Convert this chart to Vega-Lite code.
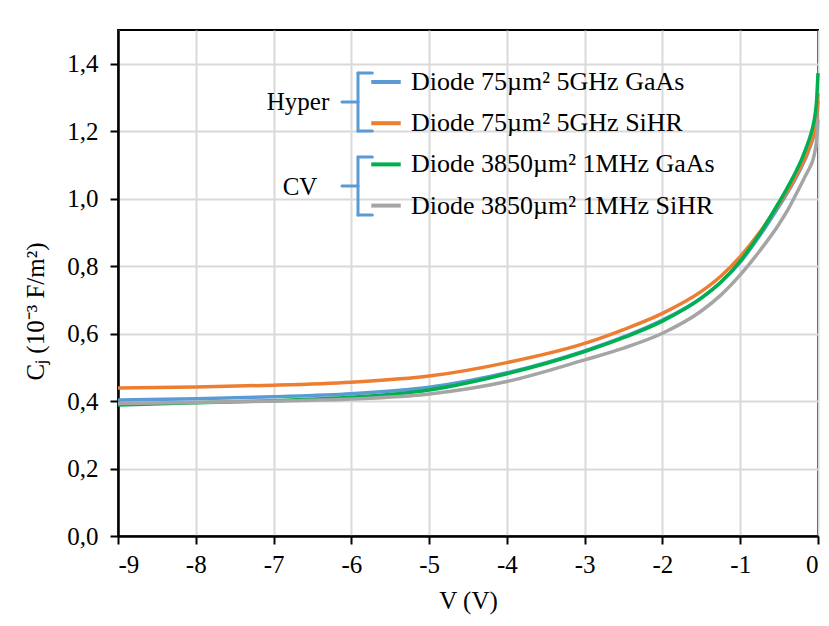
{
  "$schema": "https://vega.github.io/schema/vega-lite/v6.json",
  "width": 700,
  "height": 506,
  "autosize": {"type": "none"},
  "padding": {"left": 118, "top": 30, "right": 11, "bottom": 90},
  "background": "white",
  "data": {"values": [{}]},
  "config": {
    "locale": {"number": {"decimal": ",", "thousands": ".", "grouping": [3], "currency": ["", " €"], "minus": "-"}},
    "font": "Liberation Serif",
    "view": {"stroke": "black", "strokeWidth": 2},
    "axis": {
      "labelFont": "Liberation Serif", "labelFontSize": 25, "labelColor": "black",
      "titleFont": "Liberation Serif", "titleFontSize": 25, "titleColor": "black", "titleFontWeight": "normal",
      "domainColor": "black", "domainWidth": 2.5, "tickColor": "black", "tickWidth": 2, "tickSize": 8,
      "gridColor": "#D9D9D9", "gridWidth": 2
    },
    "legend": {"labelFont": "Liberation Serif", "labelFontSize": 26, "labelColor": "black"}
  },
  "datasets": {
    "curves": [
      {"V": -9, "C": 0.403, "series": "Diode 75µm² 5GHz GaAs"},
      {"V": -8, "C": 0.407, "series": "Diode 75µm² 5GHz GaAs"},
      {"V": -7, "C": 0.413, "series": "Diode 75µm² 5GHz GaAs"},
      {"V": -6, "C": 0.422, "series": "Diode 75µm² 5GHz GaAs"},
      {"V": -5, "C": 0.441, "series": "Diode 75µm² 5GHz GaAs"},
      {"V": -4, "C": 0.484, "series": "Diode 75µm² 5GHz GaAs"},
      {"V": -3, "C": 0.549, "series": "Diode 75µm² 5GHz GaAs"},
      {"V": -2.5, "C": 0.590, "series": "Diode 75µm² 5GHz GaAs"},
      {"V": -2, "C": 0.640, "series": "Diode 75µm² 5GHz GaAs"},
      {"V": -1.5, "C": 0.706, "series": "Diode 75µm² 5GHz GaAs"},
      {"V": -1.25, "C": 0.752, "series": "Diode 75µm² 5GHz GaAs"},
      {"V": -1, "C": 0.812, "series": "Diode 75µm² 5GHz GaAs"},
      {"V": -0.75, "C": 0.890, "series": "Diode 75µm² 5GHz GaAs"},
      {"V": -0.5, "C": 0.978, "series": "Diode 75µm² 5GHz GaAs"},
      {"V": -0.4, "C": 1.015, "series": "Diode 75µm² 5GHz GaAs"},
      {"V": -0.3, "C": 1.055, "series": "Diode 75µm² 5GHz GaAs"},
      {"V": -0.2, "C": 1.100, "series": "Diode 75µm² 5GHz GaAs"},
      {"V": -0.15, "C": 1.125, "series": "Diode 75µm² 5GHz GaAs"},
      {"V": -0.1, "C": 1.155, "series": "Diode 75µm² 5GHz GaAs"},
      {"V": -0.07, "C": 1.175, "series": "Diode 75µm² 5GHz GaAs"},
      {"V": -0.04, "C": 1.200, "series": "Diode 75µm² 5GHz GaAs"},
      {"V": -0.02, "C": 1.225, "series": "Diode 75µm² 5GHz GaAs"},
      {"V": 0, "C": 1.290, "series": "Diode 75µm² 5GHz GaAs"},

      {"V": -9, "C": 0.439, "series": "Diode 75µm² 5GHz SiHR"},
      {"V": -8, "C": 0.442, "series": "Diode 75µm² 5GHz SiHR"},
      {"V": -7, "C": 0.447, "series": "Diode 75µm² 5GHz SiHR"},
      {"V": -6, "C": 0.456, "series": "Diode 75µm² 5GHz SiHR"},
      {"V": -5, "C": 0.474, "series": "Diode 75µm² 5GHz SiHR"},
      {"V": -4, "C": 0.514, "series": "Diode 75µm² 5GHz SiHR"},
      {"V": -3, "C": 0.571, "series": "Diode 75µm² 5GHz SiHR"},
      {"V": -2.5, "C": 0.612, "series": "Diode 75µm² 5GHz SiHR"},
      {"V": -2, "C": 0.660, "series": "Diode 75µm² 5GHz SiHR"},
      {"V": -1.5, "C": 0.725, "series": "Diode 75µm² 5GHz SiHR"},
      {"V": -1.25, "C": 0.770, "series": "Diode 75µm² 5GHz SiHR"},
      {"V": -1, "C": 0.828, "series": "Diode 75µm² 5GHz SiHR"},
      {"V": -0.75, "C": 0.900, "series": "Diode 75µm² 5GHz SiHR"},
      {"V": -0.5, "C": 0.985, "series": "Diode 75µm² 5GHz SiHR"},
      {"V": -0.4, "C": 1.020, "series": "Diode 75µm² 5GHz SiHR"},
      {"V": -0.3, "C": 1.060, "series": "Diode 75µm² 5GHz SiHR"},
      {"V": -0.2, "C": 1.105, "series": "Diode 75µm² 5GHz SiHR"},
      {"V": -0.15, "C": 1.130, "series": "Diode 75µm² 5GHz SiHR"},
      {"V": -0.1, "C": 1.160, "series": "Diode 75µm² 5GHz SiHR"},
      {"V": -0.07, "C": 1.180, "series": "Diode 75µm² 5GHz SiHR"},
      {"V": -0.04, "C": 1.205, "series": "Diode 75µm² 5GHz SiHR"},
      {"V": -0.02, "C": 1.235, "series": "Diode 75µm² 5GHz SiHR"},
      {"V": 0, "C": 1.313, "series": "Diode 75µm² 5GHz SiHR"},

      {"V": -9, "C": 0.388, "series": "Diode 3850µm² 1MHz GaAs"},
      {"V": -8, "C": 0.395, "series": "Diode 3850µm² 1MHz GaAs"},
      {"V": -7, "C": 0.401, "series": "Diode 3850µm² 1MHz GaAs"},
      {"V": -6, "C": 0.411, "series": "Diode 3850µm² 1MHz GaAs"},
      {"V": -5, "C": 0.433, "series": "Diode 3850µm² 1MHz GaAs"},
      {"V": -4, "C": 0.481, "series": "Diode 3850µm² 1MHz GaAs"},
      {"V": -3, "C": 0.547, "series": "Diode 3850µm² 1MHz GaAs"},
      {"V": -2.5, "C": 0.588, "series": "Diode 3850µm² 1MHz GaAs"},
      {"V": -2, "C": 0.637, "series": "Diode 3850µm² 1MHz GaAs"},
      {"V": -1.5, "C": 0.705, "series": "Diode 3850µm² 1MHz GaAs"},
      {"V": -1.25, "C": 0.752, "series": "Diode 3850µm² 1MHz GaAs"},
      {"V": -1, "C": 0.815, "series": "Diode 3850µm² 1MHz GaAs"},
      {"V": -0.75, "C": 0.895, "series": "Diode 3850µm² 1MHz GaAs"},
      {"V": -0.5, "C": 0.990, "series": "Diode 3850µm² 1MHz GaAs"},
      {"V": -0.4, "C": 1.030, "series": "Diode 3850µm² 1MHz GaAs"},
      {"V": -0.3, "C": 1.073, "series": "Diode 3850µm² 1MHz GaAs"},
      {"V": -0.2, "C": 1.122, "series": "Diode 3850µm² 1MHz GaAs"},
      {"V": -0.15, "C": 1.152, "series": "Diode 3850µm² 1MHz GaAs"},
      {"V": -0.1, "C": 1.185, "series": "Diode 3850µm² 1MHz GaAs"},
      {"V": -0.07, "C": 1.210, "series": "Diode 3850µm² 1MHz GaAs"},
      {"V": -0.04, "C": 1.245, "series": "Diode 3850µm² 1MHz GaAs"},
      {"V": -0.02, "C": 1.285, "series": "Diode 3850µm² 1MHz GaAs"},
      {"V": 0, "C": 1.372, "series": "Diode 3850µm² 1MHz GaAs"},

      {"V": -9, "C": 0.393, "series": "Diode 3850µm² 1MHz SiHR"},
      {"V": -8, "C": 0.396, "series": "Diode 3850µm² 1MHz SiHR"},
      {"V": -7, "C": 0.400, "series": "Diode 3850µm² 1MHz SiHR"},
      {"V": -6, "C": 0.406, "series": "Diode 3850µm² 1MHz SiHR"},
      {"V": -5, "C": 0.421, "series": "Diode 3850µm² 1MHz SiHR"},
      {"V": -4, "C": 0.458, "series": "Diode 3850µm² 1MHz SiHR"},
      {"V": -3, "C": 0.522, "series": "Diode 3850µm² 1MHz SiHR"},
      {"V": -2.5, "C": 0.557, "series": "Diode 3850µm² 1MHz SiHR"},
      {"V": -2, "C": 0.601, "series": "Diode 3850µm² 1MHz SiHR"},
      {"V": -1.5, "C": 0.667, "series": "Diode 3850µm² 1MHz SiHR"},
      {"V": -1.25, "C": 0.714, "series": "Diode 3850µm² 1MHz SiHR"},
      {"V": -1, "C": 0.774, "series": "Diode 3850µm² 1MHz SiHR"},
      {"V": -0.75, "C": 0.845, "series": "Diode 3850µm² 1MHz SiHR"},
      {"V": -0.5, "C": 0.925, "series": "Diode 3850µm² 1MHz SiHR"},
      {"V": -0.4, "C": 0.962, "series": "Diode 3850µm² 1MHz SiHR"},
      {"V": -0.3, "C": 1.005, "series": "Diode 3850µm² 1MHz SiHR"},
      {"V": -0.2, "C": 1.050, "series": "Diode 3850µm² 1MHz SiHR"},
      {"V": -0.15, "C": 1.073, "series": "Diode 3850µm² 1MHz SiHR"},
      {"V": -0.1, "C": 1.095, "series": "Diode 3850µm² 1MHz SiHR"},
      {"V": -0.065, "C": 1.115, "series": "Diode 3850µm² 1MHz SiHR"},
      {"V": -0.04, "C": 1.140, "series": "Diode 3850µm² 1MHz SiHR"},
      {"V": -0.02, "C": 1.170, "series": "Diode 3850µm² 1MHz SiHR"},
      {"V": 0, "C": 1.235, "series": "Diode 3850µm² 1MHz SiHR"}
    ]
  },
  "layer": [
    {
      "data": {"name": "curves"},
      "mark": {"type": "line", "strokeWidth": 3.5, "interpolate": "monotone"},
      "encoding": {
        "x": {"field": "V", "type": "quantitative",
              "scale": {"domain": [-9, 0], "nice": false, "zero": false},
              "axis": {"values": [-9, -8, -7, -6, -5, -4, -3, -2, -1, 0], "format": "d", "title": "V (V)", "labelPadding": 8, "titlePadding": 11}},
        "y": {"field": "C", "type": "quantitative",
              "scale": {"domain": [0, 1.5], "nice": false},
              "axis": {"values": [0, 0.2, 0.4, 0.6, 0.8, 1.0, 1.2, 1.4], "format": ".1f", "title": "Cⱼ (10⁻³ F/m²)", "labelPadding": 12, "titleX": -70, "titleY": 281}},
        "color": {"field": "series", "type": "nominal",
                  "scale": {"domain": ["Diode 75µm² 5GHz GaAs", "Diode 75µm² 5GHz SiHR", "Diode 3850µm² 1MHz GaAs", "Diode 3850µm² 1MHz SiHR"],
                            "range": ["#5B9BD5", "#ED7D31", "#00B050", "#A5A5A5"]},
                  "legend": {"title": null, "orient": "none", "legendX": 251, "legendY": 35, "symbolType": "stroke", "symbolSize": 870, "symbolStrokeWidth": 4, "rowPadding": 11.2, "labelOffset": 8, "labelLimit": 500, "padding": 0}}
      }
    },
    {"mark": {"type": "rule", "color": "#5B9BD5", "strokeWidth": 3, "strokeCap": "round"}, "encoding": {"x": {"datum": -5.914}, "y": {"datum": 1.2007}, "y2": {"datum": 1.3727}}},
    {"mark": {"type": "rule", "color": "#5B9BD5", "strokeWidth": 3, "strokeCap": "round"}, "encoding": {"y": {"datum": 1.3727}, "x": {"datum": -5.914}, "x2": {"datum": -5.73}}},
    {"mark": {"type": "rule", "color": "#5B9BD5", "strokeWidth": 3, "strokeCap": "round"}, "encoding": {"y": {"datum": 1.2007}, "x": {"datum": -5.914}, "x2": {"datum": -5.73}}},
    {"mark": {"type": "rule", "color": "#5B9BD5", "strokeWidth": 3, "strokeCap": "round"}, "encoding": {"y": {"datum": 1.2867}, "x": {"datum": -6.12}, "x2": {"datum": -5.914}}},
    {"mark": {"type": "rule", "color": "#5B9BD5", "strokeWidth": 3, "strokeCap": "round"}, "encoding": {"x": {"datum": -5.914}, "y": {"datum": 0.9517}, "y2": {"datum": 1.1236}}},
    {"mark": {"type": "rule", "color": "#5B9BD5", "strokeWidth": 3, "strokeCap": "round"}, "encoding": {"y": {"datum": 1.1236}, "x": {"datum": -5.914}, "x2": {"datum": -5.73}}},
    {"mark": {"type": "rule", "color": "#5B9BD5", "strokeWidth": 3, "strokeCap": "round"}, "encoding": {"y": {"datum": 0.9517}, "x": {"datum": -5.914}, "x2": {"datum": -5.73}}},
    {"mark": {"type": "rule", "color": "#5B9BD5", "strokeWidth": 3, "strokeCap": "round"}, "encoding": {"y": {"datum": 1.0377}, "x": {"datum": -6.12}, "x2": {"datum": -5.914}}},
    {"mark": {"type": "text", "text": "Hyper", "font": "Liberation Serif", "fontSize": 25, "color": "black", "align": "center", "baseline": "middle"}, "encoding": {"x": {"datum": -6.686}, "y": {"datum": 1.2876}}},
    {"mark": {"type": "text", "text": "CV", "font": "Liberation Serif", "fontSize": 25, "color": "black", "align": "center", "baseline": "middle"}, "encoding": {"x": {"datum": -6.66}, "y": {"datum": 1.0356}}}
  ]
}
